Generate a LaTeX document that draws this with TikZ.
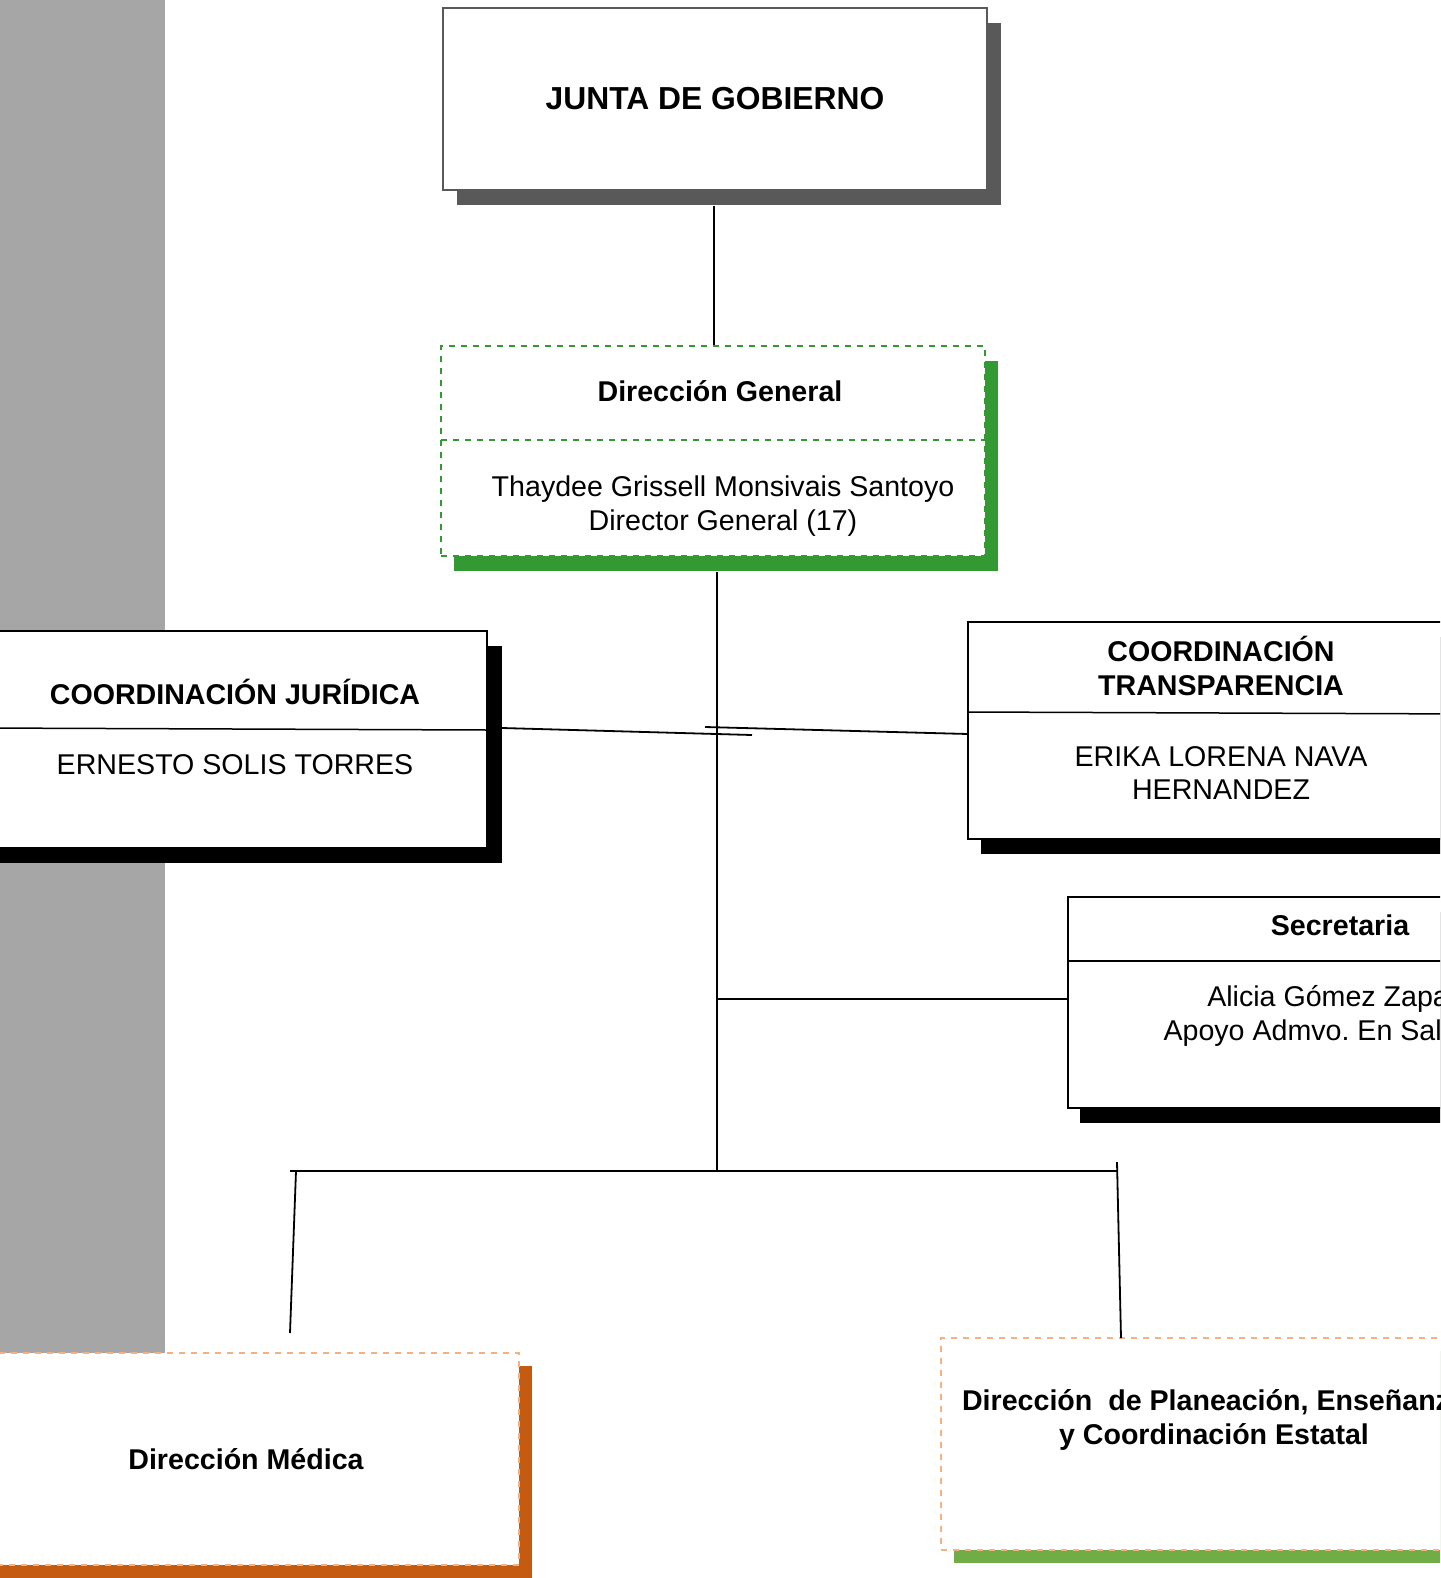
\documentclass[tikz,border=0pt]{standalone}
\usepackage{fontspec}
\setmainfont{Liberation Sans}
\usepackage{tikz}
\usetikzlibrary{shadows}
\usepackage{xcolor}

\definecolor{barGray}{HTML}{A6A6A6}
\definecolor{juntaShadow}{HTML}{595959}
\definecolor{dgGreen}{HTML}{339933}
\definecolor{medOrange}{HTML}{F4B183}
\definecolor{medShadow}{HTML}{C55A11}
\definecolor{planShadow}{HTML}{70AD47}

\tikzset{
  box/.style={draw=black, line width=0.75pt, fill=white, inner sep=0pt},
  hdr/.style={font=\fontsize{14.3}{16.7}\selectfont\bfseries, align=center, inner sep=0pt},
  txt/.style={font=\fontsize{14.3}{16.7}\selectfont, align=center, inner sep=0pt},
  link/.style={draw=black, line width=0.9pt},
  divider/.style={draw=black, line width=0.75pt},
}

\begin{document}
\begin{tikzpicture}[x=0.5pt,y=-0.5pt]
\useasboundingbox (0,0) rectangle (1440,1578);
\clip (0,0) rectangle (1440,1578);
\fill [barGray] (0,0) rectangle (165,1353);

% junta de gobierno
\node [box, draw=black!65, minimum width=272pt, minimum height=91pt,
  drop shadow={shadow xshift=7pt, shadow yshift=-7.5pt, fill=juntaShadow, opacity=1},
  font=\fontsize{15.9}{18}\selectfont\bfseries] (junta) at (715,99) {JUNTA DE GOBIERNO};

% direccion general
\node [box, draw=dgGreen, dashed, line width=0.6pt, minimum width=272pt, minimum height=105pt,
  drop shadow={shadow xshift=6.5pt, shadow yshift=-7.5pt, fill=dgGreen, opacity=1}] (dirgen) at (713,451) {};
\draw [dgGreen, dashed, line width=0.6pt] (441,440) -- (985,440);
\node [hdr] (dirgenT) at (720,391) {Dirección General};
\node [txt] (dirgenB) at (723,506) {Thaydee Grissell Monsivais Santoyo\\Director General (17)};

% coordinacion juridica
\node [box, minimum width=253pt, minimum height=108.5pt,
  drop shadow={shadow xshift=7.5pt, shadow yshift=-7.5pt, fill=black, opacity=1}] (jur) at (234,739.5) {};
\draw [divider] (-19,728) -- (487,730);
\node [hdr] (jurT) at (235,692) {COORDINACIÓN JURÍDICA};
\node [txt] (jurB) at (235,765) {ERNESTO SOLIS TORRES};

% coordinacion transparencia
\node [box, minimum width=253pt, minimum height=108.5pt,
  drop shadow={shadow xshift=6.5pt, shadow yshift=-7.5pt, fill=black, opacity=1}] (trans) at (1221,730.5) {};
\draw [divider] (968,712) -- (1474,714);
\node [hdr] (transT) at (1221,666) {COORDINACIÓN\\TRANSPARENCIA};
\node [txt] (transB) at (1221,773) {ERIKA LORENA NAVA\\HERNANDEZ};

% secretaria
\node [box, minimum width=272pt, minimum height=105.5pt,
  drop shadow={shadow xshift=6pt, shadow yshift=-7.5pt, fill=black, opacity=1}] (sec) at (1340,1002.5) {};
\draw [divider] (1068,961) -- (1612,961);
\node [hdr] (secT) at (1340,925) {Secretaria};
\node [txt] (secB) at (1340,1016) {Alicia Gómez Zapata\\Apoyo Admvo.\ En Salud A1};

% direccion medica
\node [box, draw=medOrange, dashed, line width=0.6pt, minimum width=273pt, minimum height=106pt,
  drop shadow={shadow xshift=6.5pt, shadow yshift=-6.5pt, fill=medShadow, opacity=1},
  font=\fontsize{14.3}{16.7}\selectfont\bfseries] (med) at (246,1459) {Dirección Médica};

% direccion de planeacion
\node [box, draw=medOrange, dashed, line width=0.6pt, minimum width=275pt, minimum height=106pt,
  drop shadow={shadow xshift=6.5pt, shadow yshift=-6.5pt, fill=planShadow, opacity=1}] (plan) at (1216,1444) {};
\node [hdr] (planT) at (1214,1420) {Dirección\ \ de Planeación, Enseñanza\\y Coordinación Estatal};

% lineas
\coordinate (bus) at (717,1171);
\coordinate (busL) at (290,1171);
\coordinate (busR) at (1117,1171);
\coordinate (jurOut) at (502,728);
\coordinate (xL) at (752,735);
\coordinate (xR) at (705,727);
\coordinate (transIn) at (968,734);
\coordinate (secIn) at (1068,999);
\coordinate (dropL) at (296,1171);
\coordinate (medTop) at (290,1333);
\coordinate (dropR) at (1117,1162);
\coordinate (planTop) at (1121,1338);

\draw [link] ([yshift=-7.5pt]junta.south -| 714,0) -- (dirgen.north -| 714,0);
\draw [link] ([yshift=-7.5pt]dirgen.south -| bus) -- (bus);
\draw [link] (jurOut) -- (xL);
\draw [link] (xR) -- (transIn);
\draw [link] (secIn -| bus) -- (secIn);
\draw [link] (busL) -- (busR);
\draw [link] (dropL) -- (medTop);
\draw [link] (dropR) -- (planTop);
\end{tikzpicture}
\end{document}
